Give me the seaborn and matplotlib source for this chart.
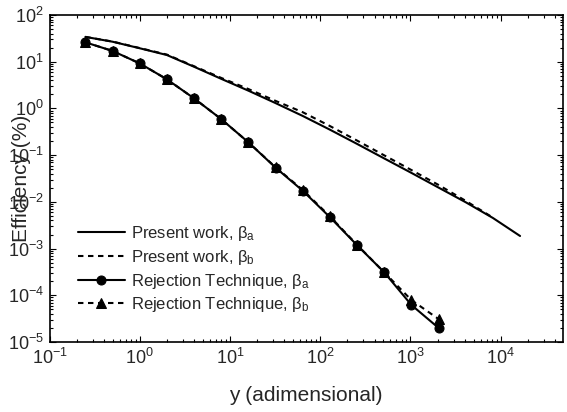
import matplotlib
matplotlib.use("Agg")
import matplotlib.pyplot as plt
import seaborn as sns
import numpy as np
import pandas as pd
from matplotlib.ticker import LogLocator, LogFormatterSciNotation, NullFormatter

# ---- data ----
x_present = [0.25, 0.5, 1, 2, 4, 8, 16, 32, 64, 128, 256, 512, 1024, 2048, 4096, 8192, 16384]
present_a = [34, 26.8, 19.4, 13.9, 7.8, 4.3, 2.4, 1.30, 0.69, 0.351, 0.174, 0.085,
             0.0417, 0.0202, 0.0098, 0.00452, 0.00186]
x_present_b = [0.25, 0.5, 1, 2, 4, 8, 16, 32, 64, 128, 256, 512, 1024, 2048, 4096, 8192]
present_b = [34, 27, 19.6, 14.2, 8.0, 4.5, 2.6, 1.45, 0.83, 0.42, 0.205, 0.099,
             0.048, 0.023, 0.0105, 0.0046]

x_rej = [0.25, 0.5, 1, 2, 4, 8, 16, 32, 64, 128, 256, 512, 1024, 2048]
rej_a = [26, 17, 9.2, 4.2, 1.64, 0.59, 0.188, 0.054, 0.0173, 0.0047, 0.00118,
         3.1e-4, 6.2e-5, 2.0e-5]
rej_b = [26, 17, 9.2, 4.2, 1.64, 0.59, 0.188, 0.055, 0.018, 0.0049, 0.0012,
         3.1e-4, 7.9e-5, 3.1e-5]

labels = [r"Present work, $\mathregular{\beta_a}$",
          r"Present work, $\mathregular{\beta_b}$",
          r"Rejection Technique, $\mathregular{\beta_a}$",
          r"Rejection Technique, $\mathregular{\beta_b}$"]

sns.set_style("ticks")
plt.rcParams["font.family"] = ["Liberation Sans", "DejaVu Sans"]
plt.rcParams["mathtext.fontset"] = "custom"
plt.rcParams["mathtext.rm"] = "Liberation Sans"
plt.rcParams["mathtext.it"] = "Liberation Sans:italic"
plt.rcParams["mathtext.default"] = "regular"

fig = plt.figure(figsize=(5.67, 4.12), dpi=100)
ax = fig.add_axes([49.5 / 567, 70 / 412, (563 - 49.5) / 567, (342 - 15) / 412])

lw = 1.5
dash = (2.6, 2.2)
sns.lineplot(x=x_present, y=present_a, ax=ax, color="black", lw=lw, label=labels[0],
             sort=False, estimator=None)
sns.lineplot(x=x_present_b, y=present_b, ax=ax, color="black", lw=lw, label=labels[1],
             sort=False, estimator=None)
ax.lines[-1].set_dashes(dash)
sns.lineplot(x=x_rej, y=rej_a, ax=ax, color="black", lw=lw, label=labels[2],
             marker="o", markersize=6.5, markeredgecolor="black",
             sort=False, estimator=None)
sns.lineplot(x=x_rej, y=rej_b, ax=ax, color="black", lw=lw, label=labels[3],
             marker="^", markersize=7, markeredgecolor="black",
             sort=False, estimator=None)
ax.lines[-1].set_dashes(dash)

ax.set_xscale("log")
ax.set_yscale("log")
ax.set_xlim(0.1, 4.9e4)
ax.set_ylim(1e-5, 1e2)

ax.xaxis.set_major_locator(LogLocator(base=10, numticks=20))
ax.yaxis.set_major_locator(LogLocator(base=10, numticks=20))
ax.xaxis.set_minor_locator(LogLocator(base=10, subs=np.arange(2, 10), numticks=50))
ax.yaxis.set_minor_locator(LogLocator(base=10, subs=np.arange(2, 10), numticks=50))
ax.xaxis.set_major_formatter(LogFormatterSciNotation())
ax.yaxis.set_major_formatter(LogFormatterSciNotation())
ax.xaxis.set_minor_formatter(NullFormatter())
ax.yaxis.set_minor_formatter(NullFormatter())

ax.tick_params(which="both", direction="in", top=True, right=True, width=0.8,
               color="black")
ax.tick_params(which="major", length=4, labelsize=13, pad=4)
ax.tick_params(which="minor", length=2.2)
for s in ax.spines.values():
    s.set_linewidth(1.2)
    s.set_color("black")
    s.set_visible(True)

ax.set_xlabel("y (adimensional)", fontsize=15, labelpad=13)
ax.set_ylabel("Efficiency (%)", fontsize=15)
ax.yaxis.set_label_coords(-0.036, 0.5)

leg = ax.legend(loc="lower left", bbox_to_anchor=(0.033, 0.049), frameon=False,
                fontsize=12, handlelength=2.8, handletextpad=0.35,
                labelspacing=0.28, borderaxespad=0.3)

fig.savefig("out.png", dpi=100, facecolor="white")
